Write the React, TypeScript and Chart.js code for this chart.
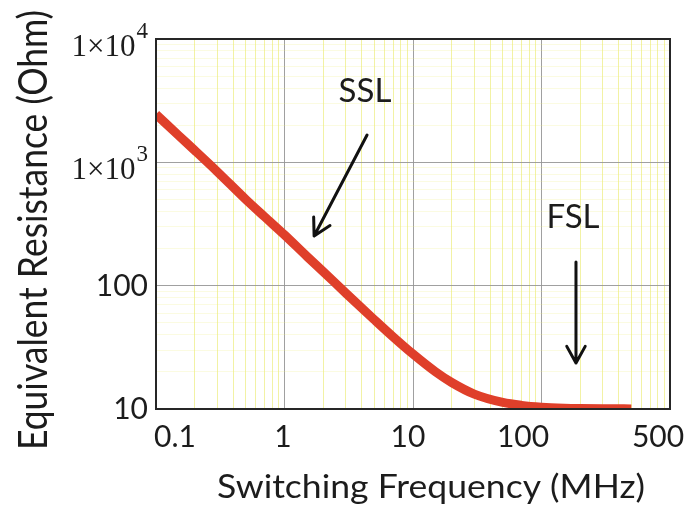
import React, { useEffect, useRef } from 'react';
import { Chart, registerables } from 'chart.js';

Chart.register(...registerables);

// ---- data ----
const frequencyMHz = [0.1, 0.15, 0.2, 0.3, 0.5, 0.7, 1, 1.5, 2, 3, 5, 7, 10, 15, 20, 30, 50, 70, 100, 150, 200, 300, 500];
const resistanceOhm = [2450, 1650, 1250, 840, 500, 362, 258, 172, 130, 87, 53, 38.5, 27.9, 20, 16.4, 13.2, 11.3, 10.7, 10.35, 10.15, 10.08, 10.04, 10.02];

const xTickValues = [0.1, 1, 10, 100, 1000];
const xTickLabels = ['0.1', '1', '10', '100', '500'];
const yTickValues = [10, 100, 1000, 10000];
const yTickLabels = ['10', '100', '1×10^3', '1×10^4'];

const xTitle = 'Switching Frequency (MHz)';
const yTitle = 'Equivalent Resistance (Ohm)';

const noteLabels = ['SSL', 'FSL'];
const noteTextX = [4.23, 176];
const noteTextY = [3790, 360];
const arrowFromX = [4.39, 185.5];
const arrowFromY = [1666, 155.6];
const arrowToX = [1.7, 185.5];
const arrowToY = [253, 23.6];

// ---- styles ----
const SANS = '"Lato", "Open Sans", sans-serif';
const SERIF = '"Liberation Serif", "Times New Roman", serif';
const RED = '#df3f2a';
const TEXT = '#1c1c1c';
const xLabelShift = [19, -1.5, -5, -18.5, -12];

function gridValues(min: number, max: number) {
  const out: number[] = [];
  for (let e = Math.round(Math.log10(min)); e <= Math.round(Math.log10(max)); e++) {
    for (let m = 1; m <= 9; m++) {
      const v = parseFloat((m * Math.pow(10, e)).toPrecision(6));
      if (v >= min * 0.999 && v <= max * 1.001) out.push(v);
    }
  }
  return out;
}

function isMajorValue(v: number) {
  const l = Math.log10(v);
  return Math.abs(l - Math.round(l)) < 1e-6;
}

const decorPlugin = {
  id: 'decor',
  afterDatasetsDraw(chart: any) {
    const { ctx, chartArea: a } = chart;
    ctx.save();
    ctx.strokeStyle = '#262626';
    ctx.lineWidth = 2;
    ctx.strokeRect(a.left, a.top, a.right - a.left, a.bottom - a.top);
    ctx.restore();
  },
  afterDraw(chart: any) {
    const { ctx, chartArea: a } = chart;
    const xs = chart.scales.x;
    const ys = chart.scales.y;
    ctx.save();
    ctx.fillStyle = TEXT;

    // x tick labels
    ctx.font = `30px ${SANS}`;
    ctx.textAlign = 'center';
    ctx.textBaseline = 'alphabetic';
    xTickValues.forEach((v, i) => {
      const px = xs.getPixelForValue(v) + xLabelShift[i];
      ctx.fillText(xTickLabels[i], px, a.bottom + 38);
    });

    // y tick labels
    const labelRight = a.left - 8;
    yTickValues.forEach((v, i) => {
      const g = ys.getPixelForValue(v);
      const lab = yTickLabels[i];
      if (lab.includes('^')) {
        const [base, exp] = lab.split('^');
        ctx.textAlign = 'right';
        ctx.font = `23px ${SERIF}`;
        const ew = ctx.measureText(exp).width;
        ctx.fillText(exp, labelRight, g - 1);
        ctx.font = `31px ${SERIF}`;
        ctx.fillText(base, labelRight - ew - 1, g + 17);
      } else {
        ctx.textAlign = 'right';
        ctx.font = `30px ${SANS}`;
        ctx.fillText(lab, labelRight, g + 10);
      }
    });

    // x title
    ctx.font = `32px ${SANS}`;
    {
      const w = ctx.measureText(xTitle).width;
      const target = 428;
      ctx.save();
      ctx.translate(431, 498);
      ctx.scale(target / w, 1);
      ctx.textAlign = 'center';
      ctx.textBaseline = 'alphabetic';
      ctx.fillText(xTitle, 0, 0);
      ctx.restore();
    }

    // y title
    ctx.font = `41px ${SANS}`;
    {
      const w = ctx.measureText(yTitle).width;
      const target = 440;
      ctx.save();
      ctx.translate(47, 230);
      ctx.rotate(-Math.PI / 2);
      ctx.scale(target / w, 1);
      ctx.textAlign = 'center';
      ctx.textBaseline = 'alphabetic';
      ctx.fillText(yTitle, 0, 0);
      ctx.restore();
    }

    // annotations
    ctx.font = `33px ${SANS}`;
    ctx.textAlign = 'center';
    ctx.textBaseline = 'middle';
    noteLabels.forEach((t, i) => {
      ctx.fillText(t, xs.getPixelForValue(noteTextX[i]), ys.getPixelForValue(noteTextY[i]));
    });
    ctx.strokeStyle = '#111';
    ctx.lineWidth = 3;
    ctx.lineCap = 'round';
    ctx.lineJoin = 'round';
    noteLabels.forEach((_, i) => {
      const x0 = xs.getPixelForValue(arrowFromX[i]);
      const y0 = ys.getPixelForValue(arrowFromY[i]);
      const x1 = xs.getPixelForValue(arrowToX[i]);
      const y1 = ys.getPixelForValue(arrowToY[i]);
      const ang = Math.atan2(y1 - y0, x1 - x0);
      const L = 19;
      const spread = Math.PI / 6.2;
      ctx.beginPath();
      ctx.moveTo(x0, y0);
      ctx.lineTo(x1, y1);
      ctx.moveTo(x1 - L * Math.cos(ang - spread), y1 - L * Math.sin(ang - spread));
      ctx.lineTo(x1, y1);
      ctx.lineTo(x1 - L * Math.cos(ang + spread), y1 - L * Math.sin(ang + spread));
      ctx.stroke();
    });
    ctx.restore();
  },
};

export default function App() {
  const ref = useRef<HTMLCanvasElement | null>(null);
  useEffect(() => {
    if (!ref.current) return;
    const points = frequencyMHz.map((f, i) => ({ x: f, y: resistanceOhm[i] }));
    const gridColorX = (c: any) =>
      isMajorValue(c.tick?.value ?? 1) ? 'rgba(150,150,150,0.9)' : 'rgba(232,232,90,0.55)';
    const gridColorY = (c: any) =>
      isMajorValue(c.tick?.value ?? 1) ? 'rgba(150,150,150,0.9)' : 'rgba(235,235,120,0.22)';
    const chart = new Chart(ref.current, {
      type: 'line',
      data: {
        datasets: [
          {
            data: points,
            borderColor: RED,
            borderWidth: 9,
            pointRadius: 0,
            fill: false,
            cubicInterpolationMode: 'monotone',
            clip: 0,
          } as any,
        ],
      },
      options: {
        responsive: false,
        maintainAspectRatio: false,
        animation: false,
        layout: { padding: { left: 156, top: 39, right: 693 - 670, bottom: 506 - 409 } },
        plugins: { legend: { display: false }, tooltip: { enabled: false } },
        scales: {
          x: {
            type: 'logarithmic',
            min: 0.1,
            max: 1000,
            afterBuildTicks: (s: any) => {
              s.ticks = gridValues(0.1, 1000).map((v) => ({ value: v, major: isMajorValue(v) }));
            },
            afterFit: (s: any) => {
              s.height = 0;
            },
            ticks: { display: false },
            grid: { color: gridColorX, lineWidth: 1, drawTicks: false },
            border: { display: false },
          },
          y: {
            type: 'logarithmic',
            min: 10,
            max: 10000,
            afterBuildTicks: (s: any) => {
              s.ticks = gridValues(10, 10000).map((v) => ({ value: v, major: isMajorValue(v) }));
            },
            afterFit: (s: any) => {
              s.width = 0;
            },
            ticks: { display: false },
            grid: { color: gridColorY, lineWidth: 1, drawTicks: false },
            border: { display: false },
          },
        },
      } as any,
      plugins: [decorPlugin],
    });
    return () => chart.destroy();
  }, []);
  return (
    <div style={{ position: 'absolute', left: 0, top: 0, width: 693, height: 506, background: '#fff' }}>
      <canvas ref={ref} width={693} height={506} style={{ display: 'block', width: 693, height: 506 }} />
    </div>
  );
}
